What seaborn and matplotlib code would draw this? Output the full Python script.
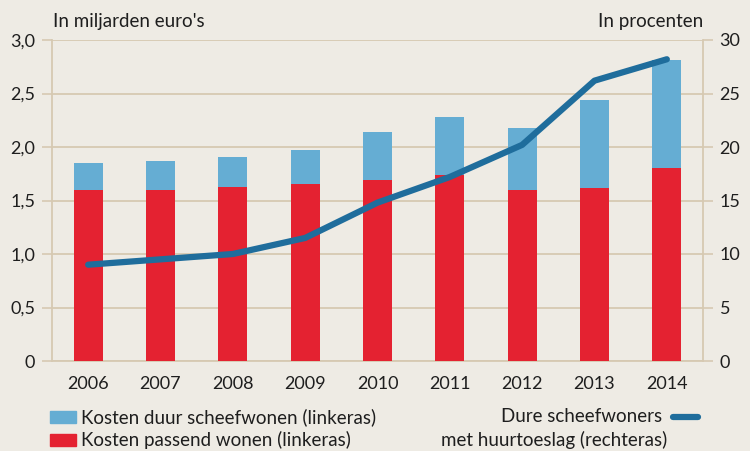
import numpy as np
import pandas as pd
import matplotlib
matplotlib.use("Agg")
import matplotlib.pyplot as plt
from matplotlib.lines import Line2D
from matplotlib.patches import Rectangle
import seaborn as sns

# data
years = ["2006", "2007", "2008", "2009", "2010", "2011", "2012", "2013", "2014"]
passend = [1.60, 1.60, 1.63, 1.65, 1.69, 1.74, 1.60, 1.62, 1.80]   # red, mld euro
duur = [0.25, 0.27, 0.28, 0.32, 0.45, 0.54, 0.58, 0.82, 1.01]      # blue on top, mld euro
scheef_pct = [9.0, 9.5, 10.0, 11.5, 14.8, 17.2, 20.2, 26.2, 28.2]  # line, right axis
left_ticks = [0, 0.5, 1.0, 1.5, 2.0, 2.5, 3.0]
left_labels = ["0", "0,5", "1,0", "1,5", "2,0", "2,5", "3,0"]

bg = "#EEEBE4"
grid_c = "#D6C9B2"
red = "#E42231"
light_blue = "#65ADD3"
dark_blue = "#1F6D9C"
txt = "#1E1E1E"
fs = 13

sns.set_theme(style="white")
plt.rcParams["font.family"] = ["Lato", "DejaVu Sans"]

df = pd.DataFrame({"jaar": years, "passend": passend, "duur": duur})
df["totaal"] = df["passend"] + df["duur"]

fig = plt.figure(figsize=(7.5, 4.51), dpi=100, facecolor=bg)
ax = fig.add_axes([52 / 750, 1 - 361 / 451, 651 / 750, 321 / 451], facecolor=bg)

sns.barplot(data=df, x="jaar", y="totaal", color=light_blue, width=0.4,
            saturation=1, linewidth=0, ax=ax, zorder=3)
sns.barplot(data=df, x="jaar", y="passend", color=red, width=0.4,
            saturation=1, linewidth=0, ax=ax, zorder=3)

ax.set_xlim(-0.5, len(years) - 0.5)
ax.set_ylim(0, 3.0)
ax.set_yticks(left_ticks)
ax.set_yticklabels(left_labels)
ax.set_xlabel("")
ax.set_ylabel("")
ax.yaxis.grid(True, color=grid_c, linewidth=1.3, zorder=0)
ax.set_axisbelow(True)
ax.set_xticks(np.arange(-0.5, len(years)), minor=True)
ax.tick_params(axis="x", which="major", length=0, pad=11, labelsize=fs, colors=txt)
ax.tick_params(axis="x", which="minor", length=5, width=1.2, color=grid_c)
ax.tick_params(axis="y", length=7, width=1.2, color=grid_c, labelsize=fs,
               labelcolor=txt, pad=5)
for s in ["left", "right", "bottom"]:
    ax.spines[s].set_color(grid_c)
    ax.spines[s].set_linewidth(1.3)
ax.spines["top"].set_visible(False)

ax2 = ax.twinx()
sns.lineplot(x=np.arange(len(years)), y=scheef_pct, color=dark_blue, linewidth=4.5,
             solid_capstyle="round", ax=ax2, zorder=5)
ax2.set_ylim(0, 30)
ax2.set_yticks(np.arange(0, 31, 5))
ax2.tick_params(axis="y", length=7, width=1.2, color=grid_c, labelsize=fs,
                labelcolor=txt, pad=5)
for s in ["left", "right", "bottom", "top"]:
    ax2.spines[s].set_visible(False)
ax2.set_ylabel("")

fig.text(53 / 750, 1 - 22 / 451, "In miljarden euro's", fontsize=fs + 0.5, color=txt,
         va="center", ha="left")
fig.text(703 / 750, 1 - 22 / 451, "In procenten", fontsize=fs + 0.5, color=txt,
         va="center", ha="right")

# legend
y1, y2 = 1 - 417 / 451, 1 - 440 / 451
fig.patches.append(Rectangle((50 / 750, y1 - 6 / 451), 26 / 750, 12 / 451,
                             transform=fig.transFigure, color=light_blue))
fig.patches.append(Rectangle((50 / 750, y2 - 6 / 451), 26 / 750, 12 / 451,
                             transform=fig.transFigure, color=red))
fig.text(81 / 750, y1, "Kosten duur scheefwonen (linkeras)", fontsize=fs + 0.5,
         color=txt, va="center")
fig.text(81 / 750, y2, "Kosten passend wonen (linkeras)", fontsize=fs + 0.5,
         color=txt, va="center")
fig.text(662 / 750, y1, "Dure scheefwoners", fontsize=fs + 0.5, color=txt,
         va="center", ha="right")
fig.text(667 / 750, y2, "met huurtoeslag (rechteras)", fontsize=fs + 0.5, color=txt,
         va="center", ha="right")
fig.lines.append(Line2D([673 / 750, 698 / 750], [y1, y1], transform=fig.transFigure,
                        color=dark_blue, linewidth=4.5, solid_capstyle="round"))

fig.savefig("out.png", dpi=100, facecolor=bg)
